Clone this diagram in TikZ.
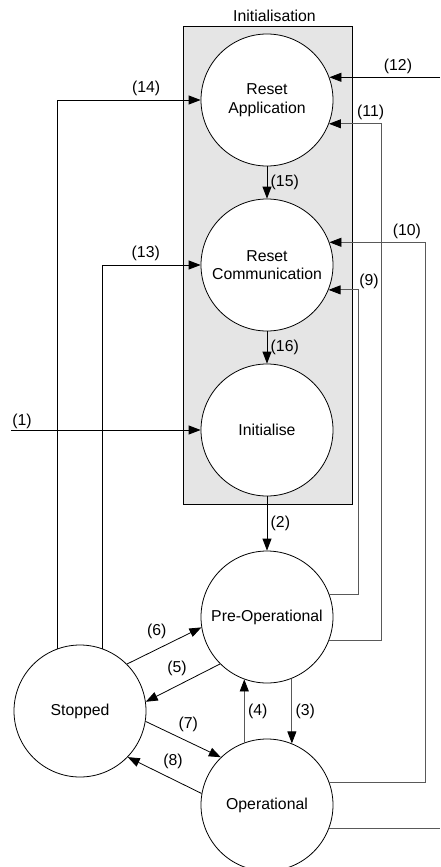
\documentclass[tikz,border=0pt]{standalone}
\usepackage{fontspec}
\setmainfont{Liberation Sans}
\usetikzlibrary{arrows.meta}
\tikzset{%
  state/.style = {shape=circle, draw, fill=white, align=center,%
                  minimum size=132pt, inner sep=0pt},%
  tr/.style    = {-{Triangle[length=12pt,width=9pt,color=black]}},%
  faint/.style = {draw=black!65},%
  group/.style = {draw, fill=gray!20, inner sep=0pt}%
}
\begin{document}
\begin{tikzpicture}[x=1pt, y=-1pt, auto, line width=0.8pt,
	every node/.style={font=\fontsize{15.8}{18.5}\selectfont}]
	\useasboundingbox (0,0) rectangle (440,867);
	% initialisation group
	\node [group, minimum width=169pt, minimum height=478pt] (init) at (267.5,265) {};
	\node [above, xshift=7pt] at (init.north) {Initialisation};
	% states
	\node [state] (RA) at (267,100) {Reset\\Application};
	\node [state] (RC) at (267,265) {Reset\\Communication};
	\node [state] (IN) at (267,430) {Initialise};
	\node [state] (PO) at (267,617) {Pre-Operational};
	\node [state] (OP) at (267,805) {Operational};
	\node [state] (ST) at (80,711) {Stopped};
	% free ends and buses
	\coordinate (in12) at (440,0);
	\coordinate (in1) at (11,0);
	\coordinate (out) at (440,0);
	\coordinate (bus9) at (358,0);
	\coordinate (bus11) at (381,0);
	\coordinate (bus10) at (425,0);
	% transitions
	\draw [tr] (in1 |- IN.west) -- node [pos=0, anchor=south west, inner sep=1pt] {(1)} (IN.west);
	\draw [tr] (IN) -- node {(2)} (PO);
	\draw [tr, faint] (PO.-68) -- node {(3)} (OP.68);
	\draw [tr, faint] (OP.110) -- node [swap] {(4)} (PO.-110);
	\draw [tr] (PO.225) -- node [swap, pos=0.4] {(5)} (ST.8);
	\draw [tr] (ST.45) -- node [pos=0.58] {(6)} (PO.189);
	\draw [tr] (ST.-9) -- node [pos=0.39] {(7)} (OP.134);
	\draw [tr] (OP.170) -- node [swap, pos=0.57] {(8)} (ST.-44);
	\draw [tr, faint] (PO.20) -| (bus9 |- RC.-22)
		-- node [pos=0, anchor=south west, inner sep=1pt] {(9)} (RC.-22);
	\draw [tr, faint] (OP.20) -| (bus10 |- RC.20)
		-- node [swap, pos=0.19] {(10)} (RC.20);
	\draw [tr, faint] (PO.-21) -| (bus11 |- RA.-21)
		-- node [swap, pos=0.2] {(11)} (RA.-21);
	\draw [tr] (in12 |- RA.20) -- node [swap, pos=0.38] {(12)} (RA.20);
	\draw [tr] (ST.70) |- node [pos=0.72] {(13)} (RC.west);
	\draw [tr] (ST.110) |- node [pos=0.81] {(14)} (RA.west);
	\draw [tr] (RA) -- node {(15)} (RC);
	\draw [tr] (RC) -- node {(16)} (IN);
	\draw [faint] (OP.-21) -- (OP.-21 -| out);
\end{tikzpicture}
\end{document}
